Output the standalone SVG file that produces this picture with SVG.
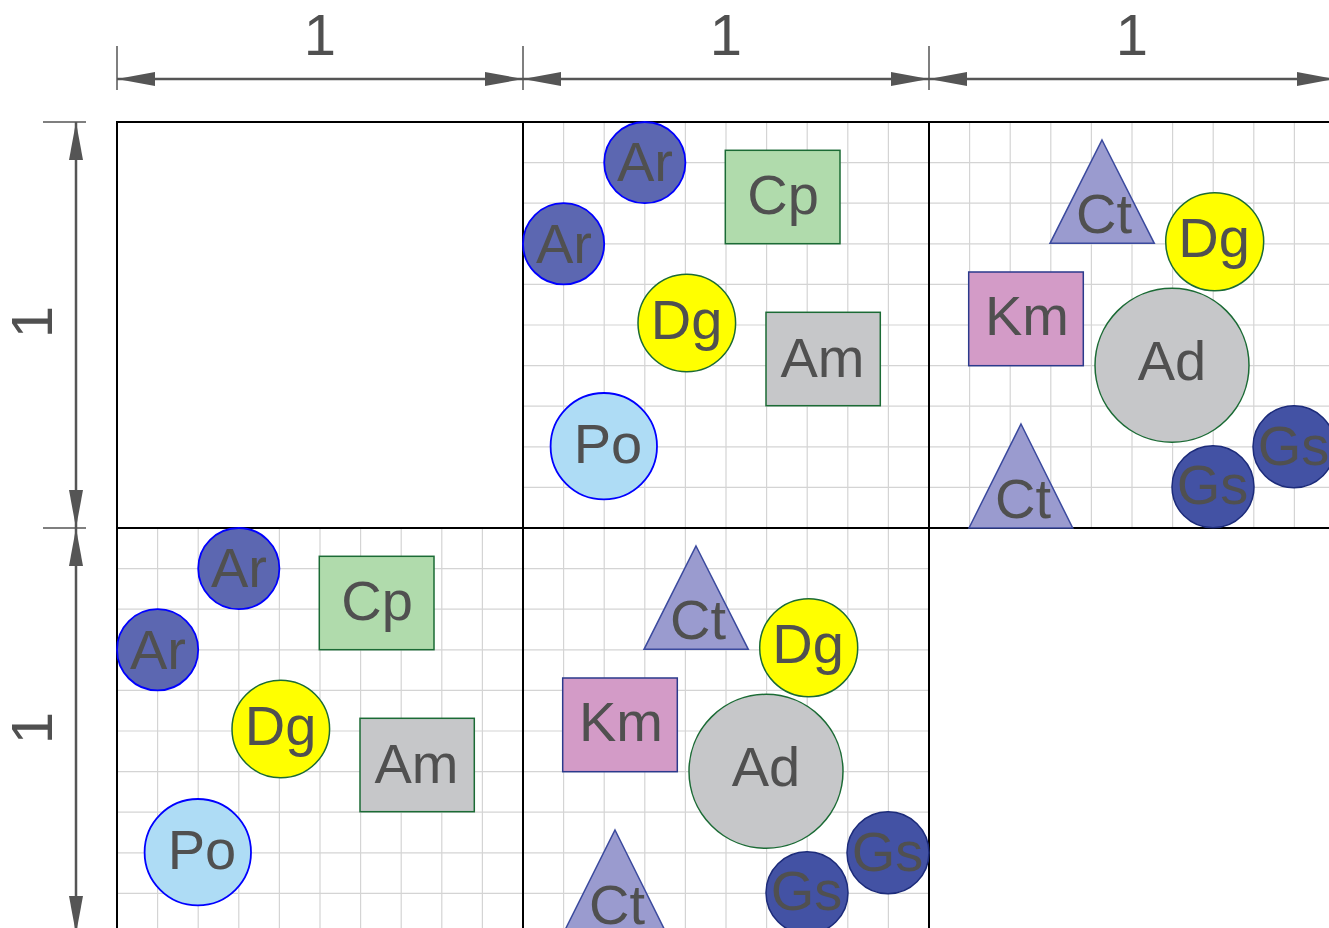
<svg xmlns="http://www.w3.org/2000/svg" width="1329" height="928" viewBox="0 0 1329 928">
<style>
text{font-family:"Liberation Sans",Arial,sans-serif;fill:#505050;text-anchor:middle}
.lbl{font-size:56px}
.dim{font-size:58px}
.border{fill:none;stroke:#000;stroke-width:2}
.dl{stroke:#555;stroke-width:2.5;fill:none}
.tk{stroke:#555;stroke-width:1.5}
.ar{fill:#5c67b1;stroke:#0000ff;stroke-width:1.8}
.po{fill:#aedcf5;stroke:#0000ff;stroke-width:1.8}
.dg{fill:#ffff00;stroke:#1b6b35;stroke-width:1.5}
.cp{fill:#b0dbac;stroke:#1b6b35;stroke-width:1.5}
.am{fill:#c6c7c9;stroke:#1b6b35;stroke-width:1.5}
.ad{fill:#c6c7c9;stroke:#1b6b35;stroke-width:1.5}
.km{fill:#d39bc7;stroke:#2b3a8c;stroke-width:1.5}
.ct{fill:#9a9bcf;stroke:#3b4a9e;stroke-width:1.5}
.gs{fill:#4352a4;stroke:#1c2b7a;stroke-width:1.5}
</style>
<defs>
<marker id="ah" viewBox="0 0 38 14" refX="38" refY="7" markerWidth="38" markerHeight="14" markerUnits="userSpaceOnUse" orient="auto-start-reverse">
<path d="M0,0 L38,7 L0,14 z" fill="#555"/>
</marker>
<g id="g10" stroke="#d4d4d4" stroke-width="1.2" fill="none">
<line x1="40.6" y1="0" x2="40.6" y2="406"/><line x1="81.2" y1="0" x2="81.2" y2="406"/><line x1="121.8" y1="0" x2="121.8" y2="406"/><line x1="162.4" y1="0" x2="162.4" y2="406"/><line x1="203" y1="0" x2="203" y2="406"/><line x1="243.6" y1="0" x2="243.6" y2="406"/><line x1="284.2" y1="0" x2="284.2" y2="406"/><line x1="324.8" y1="0" x2="324.8" y2="406"/><line x1="365.4" y1="0" x2="365.4" y2="406"/>
<line y1="40.6" x1="0" y2="40.6" x2="406"/><line y1="81.2" x1="0" y2="81.2" x2="406"/><line y1="121.8" x1="0" y2="121.8" x2="406"/><line y1="162.4" x1="0" y2="162.4" x2="406"/><line y1="203" x1="0" y2="203" x2="406"/><line y1="243.6" x1="0" y2="243.6" x2="406"/><line y1="284.2" x1="0" y2="284.2" x2="406"/><line y1="324.8" x1="0" y2="324.8" x2="406"/><line y1="365.4" x1="0" y2="365.4" x2="406"/>
</g>
</defs>
<rect width="1329" height="928" fill="#fff"/>
<g id="grid">
<use href="#g10" x="523" y="122"/>
<use href="#g10" x="929" y="122"/>
<use href="#g10" x="117" y="528"/>
<use href="#g10" x="523" y="528"/>
</g>
<g id="cells">
<rect class="border" x="117" y="122" width="406" height="406"/>
<rect class="border" x="523" y="122" width="406" height="406"/>
<rect class="border" x="929" y="122" width="406" height="406"/>
<rect class="border" x="117" y="528" width="406" height="406"/>
<rect class="border" x="523" y="528" width="406" height="406"/>
</g>
<g id="connectors">
<line class="tk" x1="117" y1="46" x2="117" y2="90"/>
<line class="tk" x1="523" y1="46" x2="523" y2="90"/>
<line class="tk" x1="929" y1="46" x2="929" y2="90"/>
<line class="tk" x1="1335" y1="46" x2="1335" y2="90"/>
<line class="dl" x1="117" y1="79" x2="523" y2="79" marker-start="url(#ah)" marker-end="url(#ah)"/>
<line class="dl" x1="523" y1="79" x2="929" y2="79" marker-start="url(#ah)" marker-end="url(#ah)"/>
<line class="dl" x1="929" y1="79" x2="1335" y2="79" marker-start="url(#ah)" marker-end="url(#ah)"/>
<line class="tk" x1="43" y1="122" x2="86" y2="122"/>
<line class="tk" x1="43" y1="528" x2="86" y2="528"/>
<line class="dl" x1="76" y1="122" x2="76" y2="528" marker-start="url(#ah)" marker-end="url(#ah)"/>
<line class="dl" x1="76" y1="528" x2="76" y2="934" marker-start="url(#ah)" marker-end="url(#ah)"/>
</g>
<g id="dimlabels">
<text class="dim" x="320" y="55">1</text>
<text class="dim" x="726" y="55">1</text>
<text class="dim" x="1132" y="55">1</text>
<text class="dim" transform="translate(52,322) rotate(-90)">1</text>
<text class="dim" transform="translate(52,728) rotate(-90)">1</text>
</g>
<g id="cellA" transform="translate(523,122)">
<g id="a-ar1"><circle class="ar" cx="121.8" cy="40.6" r="40.6"/><text class="lbl" x="122" y="59">Ar</text></g>
<g id="a-ar2"><circle class="ar" cx="40.6" cy="121.8" r="40.6"/><text class="lbl" x="41" y="140.5">Ar</text></g>
<g id="a-cp"><rect class="cp" x="202.3" y="28.3" width="114.7" height="93.4"/><text class="lbl" x="260" y="92">Cp</text></g>
<g id="a-dg"><circle class="dg" cx="163.8" cy="201" r="48.8"/><text class="lbl" x="163.5" y="216.5">Dg</text></g>
<g id="a-am"><rect class="am" x="243" y="190.3" width="114.3" height="93.4"/><text class="lbl" x="299.5" y="254.7">Am</text></g>
<g id="a-po"><circle class="po" cx="80.8" cy="324.2" r="53.2"/><text class="lbl" x="85" y="341.3">Po</text></g>
</g>
<g id="cellB" transform="translate(929,122)">
<g id="b-ct1"><polygon class="ct" points="173,18 225.3,121.3 121,121.3"/><text class="lbl" x="175" y="111.3">Ct</text></g>
<g id="b-dg"><circle class="dg" cx="285.7" cy="119.7" r="49"/><text class="lbl" x="285" y="134.7">Dg</text></g>
<g id="b-km"><rect class="km" x="39.7" y="150" width="114.6" height="93.7"/><text class="lbl" x="98" y="213">Km</text></g>
<g id="b-ad"><circle class="ad" cx="243" cy="243.3" r="77"/><text class="lbl" x="243" y="258">Ad</text></g>
<g id="b-gs1"><circle class="gs" cx="365" cy="324.7" r="41"/><text class="lbl" x="364.5" y="343">Gs</text></g>
<g id="b-gs2"><circle class="gs" cx="284" cy="364.8" r="41"/><text class="lbl" x="283.5" y="382">Gs</text></g>
<g id="b-ct2"><polygon class="ct" points="92,302 143.7,406 40,406"/><text class="lbl" x="94" y="396.3">Ct</text></g>
</g>
<g id="cellC" transform="translate(117,528)">
<g id="c-ar1"><circle class="ar" cx="121.8" cy="40.6" r="40.6"/><text class="lbl" x="122" y="59">Ar</text></g>
<g id="c-ar2"><circle class="ar" cx="40.6" cy="121.8" r="40.6"/><text class="lbl" x="41" y="140.5">Ar</text></g>
<g id="c-cp"><rect class="cp" x="202.3" y="28.3" width="114.7" height="93.4"/><text class="lbl" x="260" y="92">Cp</text></g>
<g id="c-dg"><circle class="dg" cx="163.8" cy="201" r="48.8"/><text class="lbl" x="163.5" y="216.5">Dg</text></g>
<g id="c-am"><rect class="am" x="243" y="190.3" width="114.3" height="93.4"/><text class="lbl" x="299.5" y="254.7">Am</text></g>
<g id="c-po"><circle class="po" cx="80.8" cy="324.2" r="53.2"/><text class="lbl" x="85" y="341.3">Po</text></g>
</g>
<g id="cellD" transform="translate(523,528)">
<g id="d-ct1"><polygon class="ct" points="173,18 225.3,121.3 121,121.3"/><text class="lbl" x="175" y="111.3">Ct</text></g>
<g id="d-dg"><circle class="dg" cx="285.7" cy="119.7" r="49"/><text class="lbl" x="285" y="134.7">Dg</text></g>
<g id="d-km"><rect class="km" x="39.7" y="150" width="114.6" height="93.7"/><text class="lbl" x="98" y="213">Km</text></g>
<g id="d-ad"><circle class="ad" cx="243" cy="243.3" r="77"/><text class="lbl" x="243" y="258">Ad</text></g>
<g id="d-gs1"><circle class="gs" cx="365" cy="324.7" r="41"/><text class="lbl" x="364.5" y="343">Gs</text></g>
<g id="d-gs2"><circle class="gs" cx="284" cy="364.8" r="41"/><text class="lbl" x="283.5" y="382">Gs</text></g>
<g id="d-ct2"><polygon class="ct" points="92,302 143.7,406 40,406"/><text class="lbl" x="94" y="396.3">Ct</text></g>
</g>
</svg>
